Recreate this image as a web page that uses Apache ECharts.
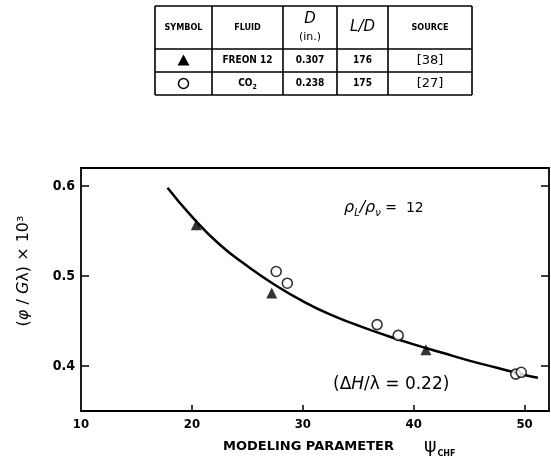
<!DOCTYPE html>
<html><head><meta charset="utf-8">
<script src="https://cdn.jsdelivr.net/npm/echarts@6/dist/echarts.min.js"></script>
<style>html,body{margin:0;padding:0;background:#fff}#c{width:551px;height:466px}</style>
</head><body><div id="c"></div>
<script>
const xTicks = [10, 20, 30, 40, 50];
const yTicks = [0.4, 0.5, 0.6];
const freonX = [20.4, 27.2, 41.1];
const freonY = [0.557, 0.481, 0.418];
const co2X = [27.6, 28.6, 36.7, 38.6, 49.2, 49.7];
const co2Y = [0.505, 0.492, 0.446, 0.434, 0.391, 0.393];
const curveX = [17.8, 20, 22.5, 25, 27.5, 30, 32.5, 35, 37.5, 40, 42.5, 45, 47.5, 50, 51.2];
const curveY = [0.598, 0.566, 0.535, 0.511, 0.490, 0.472, 0.457, 0.445, 0.434, 0.424, 0.415, 0.406, 0.398, 0.390, 0.387];
const tableHeader = ['SYMBOL', 'FLUID', 'D', 'L/D', 'SOURCE'];
const tableRow1 = ['', 'FREON 12', '0.307', '176', '[38]'];
const tableRow2 = ['', 'CO2', '0.238', '175', '[27]'];

const BOLD = "'DejaVu Sans Condensed','Liberation Sans Narrow','DejaVu Sans',sans-serif";
const BOLDW = "'DejaVu Sans','Liberation Sans',sans-serif";
const REG = "'DejaVu Sans','Liberation Sans',sans-serif";

const zip = (a, b) => a.map((v, i) => [v, b[i]]);

// table geometry
const colX = [155, 212, 283, 337, 388, 472];
const rowY = [6, 49, 72, 95];
const g = [];
const lineStyle = { stroke: '#000', lineWidth: 1.6 };
colX.forEach(x => g.push({ type: 'line', shape: { x1: x, y1: rowY[0], x2: x, y2: rowY[3] }, style: lineStyle }));
rowY.forEach(y => g.push({ type: 'line', shape: { x1: colX[0], y1: y, x2: colX[5], y2: y }, style: lineStyle }));
const cx = i => (colX[i] + colX[i + 1]) / 2;
const cy = r => (rowY[r] + rowY[r + 1]) / 2;
const txt = (x, y, t, opt) => g.push(Object.assign({ type: 'text', x: x, y: y, style: Object.assign({ text: t, align: 'center', verticalAlign: 'middle', fill: '#000', font: 'bold 9px ' + BOLD }, opt || {}) }));
txt(cx(0), cy(0), tableHeader[0]);
txt(cx(1), cy(0), tableHeader[1]);
txt(cx(2), cy(0) - 8, tableHeader[2], { font: 'italic 15px ' + REG });
txt(cx(2), cy(0) + 10, '(in.)', { font: '11px ' + REG });
txt(cx(3), cy(0), tableHeader[3], { font: 'italic 15px ' + REG });
txt(cx(4), cy(0), tableHeader[4]);
[tableRow1, tableRow2].forEach((row, r) => {
  for (let i = 1; i < 5; i++) {
    if (i === 4) txt(cx(i), cy(r + 1), row[i], { font: '13px ' + REG });
    else if (row[i] === 'CO2') {
      g.push({ type: 'text', x: cx(i), y: cy(r + 1), style: { text: '{a|CO}{b|2}', align: 'center', verticalAlign: 'middle', rich: { a: { font: 'bold 10px ' + BOLD, fill: '#000' }, b: { font: 'bold 7px ' + BOLD, fill: '#000', padding: [8, 0, 0, 0] } } } });
    }
    else txt(cx(i), cy(r + 1), row[i], { font: 'bold 10px ' + BOLD });
  }
});
// symbols in table
g.push({ type: 'polygon', shape: { points: [[cx(0), cy(1) - 6], [cx(0) - 6, cy(1) + 5], [cx(0) + 6, cy(1) + 5]] }, style: { fill: '#000' } });
g.push({ type: 'circle', shape: { cx: cx(0), cy: cy(2), r: 5 }, style: { fill: '#fff', stroke: '#000', lineWidth: 1.5 } });

// annotations
g.push({ type: 'text', x: 344, y: 208, style: { text: '{i|ρ}{s|L}{i|/ρ}{s|ν}{n| =  12}', verticalAlign: 'middle', rich: {
  i: { font: 'italic 16px ' + REG, fill: '#000' },
  s: { font: 'italic 10px ' + REG, fill: '#000', padding: [10, 0, 0, 0] },
  n: { font: '14px ' + REG, fill: '#000' } } } });
g.push({ type: 'text', x: 333, y: 385, style: { text: '{a|(Δ}{i|H}{a|/λ = 0.22)}', verticalAlign: 'middle', rich: {
  a: { font: '17px ' + REG, fill: '#000' },
  i: { font: 'italic 17px ' + REG, fill: '#000' } } } });
// axis titles
g.push({ type: 'text', x: 24, y: 271, rotation: Math.PI / 2, style: { text: '{a|(}{i|φ}{a| / }{i|G}{a|λ) × 10³}', align: 'center', verticalAlign: 'middle', rich: {
  a: { font: '16px ' + REG, fill: '#000' },
  i: { font: 'italic 16px ' + REG, fill: '#000' } } } });
g.push({ type: 'text', x: 223, y: 447, style: { text: '{a|MODELING PARAMETER}{p|ψ}{s|CHF}', verticalAlign: 'middle', rich: {
  a: { font: 'bold 13px ' + BOLDW, fill: '#000' },
  p: { font: '19px ' + REG, fill: '#000', padding: [0, 1, 0, 30] },
  s: { font: 'bold 8px ' + BOLDW, fill: '#000', padding: [14, 0, 0, 0] } } } });

const axisLine = { show: true, lineStyle: { color: '#000', width: 1.8 } };
const chart = echarts.init(document.getElementById('c'));
chart.setOption({
  animation: false,
  backgroundColor: '#fff',
  grid: { left: 81, right: 2, top: 168, bottom: 55 },
  xAxis: [
    { type: 'value', min: 10, max: 52.2, position: 'bottom', axisLine: axisLine,
      axisTick: { show: true, inside: true, length: 6, lineStyle: { color: '#000', width: 1.5 }, customValues: xTicks.slice(1) },
      axisLabel: { color: '#000', fontFamily: BOLD, fontWeight: 'bold', fontSize: 13, margin: 7, customValues: xTicks },
      splitLine: { show: false } },
    { type: 'value', min: 10, max: 52.2, position: 'top', axisLine: axisLine,
      axisTick: { show: false }, axisLabel: { show: false }, splitLine: { show: false } }
  ],
  yAxis: [
    { type: 'value', min: 0.35, max: 0.62, position: 'left', axisLine: axisLine,
      axisTick: { show: true, inside: true, length: 8, lineStyle: { color: '#000', width: 1.5 }, customValues: yTicks },
      axisLabel: { color: '#000', fontFamily: BOLD, fontWeight: 'bold', fontSize: 14, margin: 6, customValues: yTicks, formatter: v => v.toFixed(1) },
      splitLine: { show: false } },
    { type: 'value', min: 0.35, max: 0.62, position: 'right', axisLine: axisLine,
      axisTick: { show: true, inside: true, length: 8, lineStyle: { color: '#000', width: 1.5 }, customValues: yTicks },
      axisLabel: { show: false }, splitLine: { show: false } }
  ],
  series: [
    { type: 'line', data: zip(curveX, curveY), smooth: true, symbol: 'none', lineStyle: { color: '#000', width: 2.5 }, z: 2 },
    { type: 'scatter', data: zip(freonX, freonY), symbol: 'triangle', symbolSize: 11, itemStyle: { color: '#000' }, z: 3 },
    { type: 'scatter', data: zip(co2X, co2Y), symbol: 'circle', symbolSize: 10, itemStyle: { color: '#fff', borderColor: '#000', borderWidth: 1.6 }, z: 3 }
  ],
  graphic: g
});
</script></body></html>
